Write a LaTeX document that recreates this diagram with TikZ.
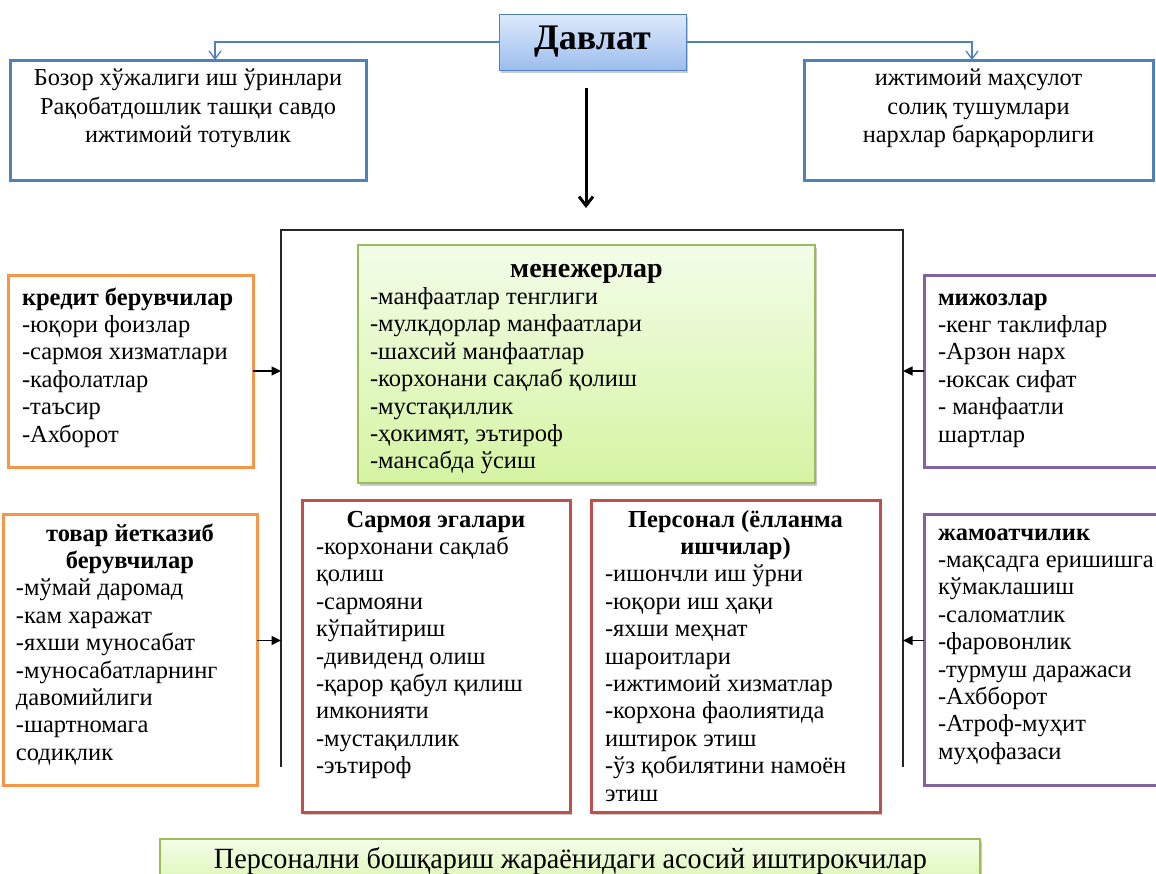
\documentclass[tikz,border=0pt]{standalone}
\usepackage{fontspec}
\setmainfont{Liberation Serif}
\usetikzlibrary{arrows.meta,shadows}
\hyphenpenalty=10000
\exhyphenpenalty=10000

\definecolor{ofblue}{HTML}{4F81BD}
\definecolor{oforange}{HTML}{F79646}
\definecolor{ofpurple}{HTML}{8064A2}
\definecolor{ofred}{HTML}{C0504D}
\definecolor{ofgreen}{HTML}{9BBB59}
\definecolor{gtop}{HTML}{F3FDE9}
\definecolor{gbot}{HTML}{D5F4A2}
\definecolor{btop}{HTML}{DDE9FB}
\definecolor{bbot}{HTML}{9DBEEE}

\newcommand\bodyfont{\fontsize{24.5}{27.4}\selectfont}
\newcommand\headfont{\fontsize{24.3}{28.5}\selectfont}

\begin{document}
\begin{tikzpicture}[x=1pt,y=-1pt,
  every node/.style={inner sep=0pt, outer sep=0pt},
  softshadow/.style={drop shadow={shadow xshift=2pt, shadow yshift=-2.5pt, opacity=0.35, fill=black!60}},
  panel/.style={draw=#1, line width=3pt, fill=white, anchor=north west},
  redbox/.style={draw=ofred, line width=3pt, fill=white, anchor=north west, softshadow},
  greenbox/.style={draw=ofgreen, line width=1.3pt, top color=gtop, bottom color=gbot, anchor=north west, softshadow},
  statebox/.style={draw=ofblue, line width=0.9pt, top color=btop, bottom color=bbot, softshadow,
    font=\fontsize{36}{40}\selectfont\bfseries},
  txt/.style={anchor=base west, font=\bodyfont},
  ctxt/.style={anchor=base, font=\headfont},
  bluearrow/.style={draw=ofblue, line width=1.3pt, -{Straight Barb[length=8pt,width=12pt]}},
  bigarrow/.style={draw=black, line width=3pt, -{Straight Barb[length=9pt,width=14pt]}},
  smallarrow/.style={draw=black, line width=1.4pt, -{Triangle[length=9.5pt,width=9pt]}},
  frameline/.style={draw=black!85, line width=1.6pt},
]
\useasboundingbox (0,0) rectangle (1156,873);

% state and the two outcome boxes
\node[statebox, minimum width=187pt, minimum height=56pt] (state) at (592.5,42) {Давлат};

\node[panel=ofblue, minimum width=356pt, minimum height=120pt] (econ) at (10,60) {};
\node[ctxt] (econ-t) at (188,85.5) {\parbox[t]{350pt}{\centering
  Бозор хўжалиги иш ўринлари\\ Рақобатдошлик ташқи савдо\\ ижтимоий тотувлик}};

\node[panel=ofblue, minimum width=349pt, minimum height=120pt] (soc) at (804,60) {};
\node[ctxt] (soc-t) at (978.5,85.5) {\parbox[t]{345pt}{\centering
  ижтимоий маҳсулот\\ солиқ тушумлари\\ нархлар барқарорлиги}};

\coordinate (lj) at (215,0);
\coordinate (rj) at (972,0);
\draw[bluearrow] (state.west) -| (lj |- econ.north);
\draw[bluearrow] (state.east) -| (rj |- soc.north);

\coordinate (downtop) at (586,88);
\coordinate (downend) at (586,208);
\draw[bigarrow] (downtop) -- (downend);

% enterprise frame, open at the bottom
\coordinate (fTL) at (281,230);
\coordinate (fTR) at (903,230);
\coordinate (fBL) at (281,767);
\coordinate (fBR) at (903,767);
\draw[frameline] (fBL) -- (fTL) -- (fTR) -- (fBR);

% managers
\node[greenbox, minimum width=457pt, minimum height=238pt] (mgr) at (358,245) {};
\node[txt] (mgr-t) at (370,277) {\parbox[t]{433pt}{{\centering\fontsize{28}{27.4}\selectfont\bfseries менежерлар\par}\raggedright
  -манфаатлар тенглиги\\ -мулкдорлар манфаатлари\\ -шахсий манфаатлар\\
  -корхонани сақлаб қолиш\\ -мустақиллик\\ -ҳокимят, эътироф\\ -мансабда ўсиш}};

% creditors
\node[panel=oforange, minimum width=245pt, minimum height=192pt] (cred) at (8,275) {};
\node[txt] (cred-t) at (22,305) {\parbox[t]{225pt}{\raggedright
  \textbf{кредит берувчилар}\\ -юқори фоизлар\\ -сармоя хизматлари\\ -кафолатлар\\ -таъсир\\ -Ахборот}};
\draw[smallarrow] (cred.east) -- (cred.east -| fTL);

% clients
\node[panel=ofpurple, minimum width=241pt, minimum height=192pt] (cli) at (924,275) {};
\node[txt] (cli-t) at (938,305) {\parbox[t]{215pt}{\raggedright
  \textbf{мижозлар}\\ -кенг таклифлар\\ -Арзон нарх\\ -юксак сифат\\ - манфаатли\\ шартлар}};
\draw[smallarrow] (cli.west) -- (cli.west -| fTR);

% suppliers
\node[panel=oforange, minimum width=254pt, minimum height=271pt] (sup) at (3,514) {};
\node[txt] (sup-t) at (16,541) {\parbox[t]{228pt}{{\centering\bfseries товар йетказиб\\ берувчилар\par}\raggedright
  -мўмай даромад\\ -кам харажат\\ -яхши муносабат\\ -муносабатларнинг\\ давомийлиги\\ -шартномага\\ содиқлик}};
\draw[smallarrow] ([yshift=9pt]sup.east) -- ([yshift=9pt]sup.east -| fTL);

% owners
\node[redbox, minimum width=268pt, minimum height=312pt] (inv) at (302,500) {};
\node[txt] (inv-t) at (316,527) {\parbox[t]{240pt}{{\centering\bfseries Сармоя эгалари\par}\raggedright
  -корхонани сақлаб\\ қолиш\\ -сармояни\\ кўпайтириш\\ -дивиденд олиш\\ -қарор қабул қилиш\\
  имконияти\\ -мустақиллик\\ -эътироф}};

% staff
\node[redbox, minimum width=289pt, minimum height=312pt] (staff) at (591,500) {};
\node[txt] (staff-t) at (605,527) {\parbox[t]{261pt}{{\centering\bfseries Персонал (ёлланма\\ ишчилар)\par}\raggedright
  -ишончли иш ўрни\\ -юқори иш ҳақи\\ -яхши меҳнат\\ шароитлари\\ -ижтимоий хизматлар\\
  -корхона фаолиятида\\ иштирок этиш\\ -ўз қобилятини намоён\\ этиш}};

% public
\node[panel=ofpurple, minimum width=241pt, minimum height=271pt] (pub) at (924,514) {};
\node[txt] (pub-t) at (938,540) {\parbox[t]{260pt}{\raggedright
  \textbf{жамоатчилик}\\ -мақсадга еришишга\\ кўмаклашиш\\ -саломатлик\\ -фаровонлик\\
  -турмуш даражаси\\ -Ахбборот\\ -Атроф-муҳит\\ муҳофазаси}};
\draw[smallarrow] ([yshift=9pt]pub.west) -- ([yshift=9pt]pub.west -| fTR);

% caption bar
\node[greenbox, minimum width=820pt, minimum height=60pt] (footer) at (160,839) {};
\node[anchor=base] (footer-t) at (570.5,868) {\resizebox{713pt}{21pt}{\fontsize{25}{30}\selectfont
  Персонални бошқариш жараёнидаги асосий иштирокчилар}};
\end{tikzpicture}
\end{document}
